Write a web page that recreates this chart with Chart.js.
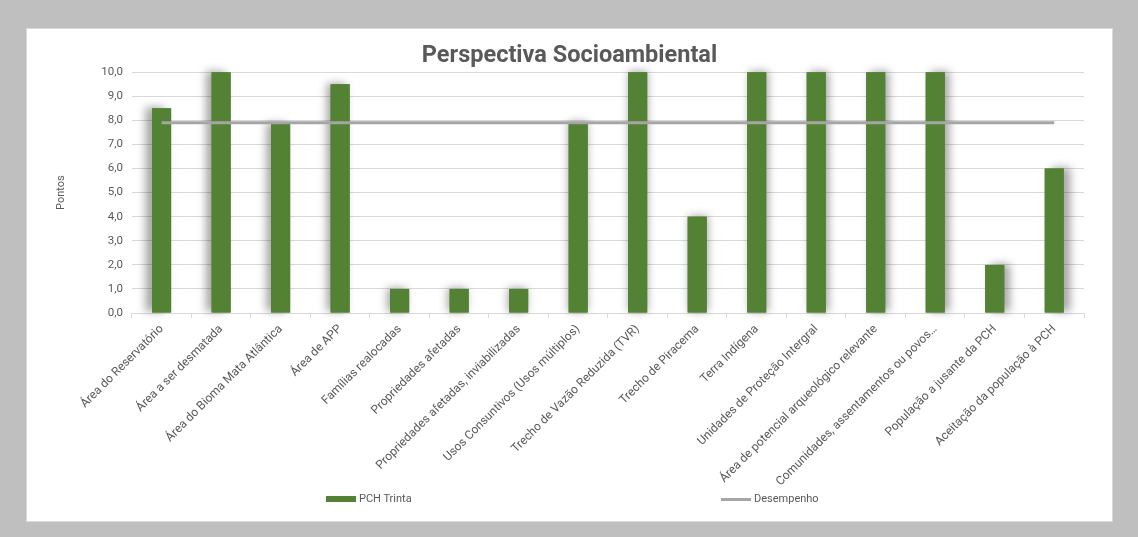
<!DOCTYPE html>
<html>
<head>
<meta charset="utf-8">
<script src="https://cdn.jsdelivr.net/npm/chart.js@4"></script>
<style>
  html, body { margin: 0; padding: 0; background: #bfbfbf; }
  #painel {
    position: absolute; left: 26px; top: 28px; width: 1087px; height: 494px;
    background: #ffffff; box-sizing: border-box; border: 1px solid #d9d9d9;
  }
  #grafico { display: block; }
  #legenda {
    position: absolute; top: 463px; left: 0; width: 100%; height: 14px;
    font: 11px Roboto, 'Liberation Sans', sans-serif; color: #595959;
  }
  .item { position: absolute; top: 0; line-height: 14px; white-space: nowrap; }
  .item span.marca { display: inline-block; width: 30px; vertical-align: middle; margin-right: 3px; }
</style>
</head>
<body>
<div id="painel">
  <canvas id="grafico" width="1085" height="464"></canvas>
  <div id="legenda"></div>
</div>
<script>
// --- Dados ---
const categorias = [
  "Área do Reservatório",
  "Área a ser desmatada",
  "Área do Bioma Mata Atlântica",
  "Área de APP",
  "Famílias realocadas",
  "Propriedades afetadas",
  "Propriedades afetadas, inviabilizadas",
  "Usos Consuntivos (Usos múltiplos)",
  "Trecho de Vazão Reduzida (TVR)",
  "Trecho de Piracema",
  "Terra Indígena",
  "Unidades de Proteção Intergral",
  "Área de potencial arqueológico relevante",
  "Comunidades, assentamentos ou povos…",
  "População a jusante da PCH",
  "Aceitação da população à PCH"
];
const pchTrinta = [8.5, 10, 7.85, 9.5, 1, 1, 1, 7.9, 10, 4, 10, 10, 10, 10, 2, 6];
const desempenho = [7.9, 7.9, 7.9, 7.9, 7.9, 7.9, 7.9, 7.9, 7.9, 7.9, 7.9, 7.9, 7.9, 7.9, 7.9, 7.9];

const verde = "#548235";
const cinza = "#a5a5a5";
const texto = "#595959";

// sombra das barras (efeito do Excel)
const sombraBarras = {
  id: "sombraBarras",
  beforeDatasetDraw(chart, args) {
    if (args.index !== 0) return;
    const ctx = chart.ctx;
    const area = chart.chartArea;
    const cx = (area.left + area.right) / 2;
    const meia = (area.right - area.left) / 2;
    args.meta.data.forEach(function (bar) {
      const p = bar.getProps(["x", "y", "base", "width"], true);
      ctx.save();
      ctx.shadowColor = "rgba(0,0,0,0.35)";
      ctx.shadowBlur = 8;
      ctx.shadowOffsetX = ((p.x - cx) / meia) * 7;
      ctx.shadowOffsetY = -1;
      ctx.fillStyle = verde;
      ctx.fillRect(p.x - p.width / 2, p.y, p.width, p.base - p.y);
      ctx.restore();
    });
  }
};

Chart.defaults.font.family = "Roboto, 'Liberation Sans', sans-serif";
Chart.defaults.color = texto;

const grafico = new Chart(document.getElementById("grafico").getContext("2d"), {
  type: "bar",
  data: {
    labels: categorias,
    datasets: [
      {
        label: "PCH Trinta",
        data: pchTrinta,
        backgroundColor: verde,
        borderColor: verde,
        borderWidth: 0,
        barPercentage: 0.64,
        categoryPercentage: 0.5,
        order: 2
      },
      {
        type: "line",
        label: "Desempenho",
        data: desempenho,
        borderColor: cinza,
        backgroundColor: cinza,
        borderWidth: 3,
        pointRadius: 0,
        fill: false,
        order: 1
      }
    ]
  },
  options: {
    responsive: false,
    animation: false,
    layout: { padding: { left: 28, right: 28, top: 2, bottom: 0 } },
    plugins: {
      title: {
        display: true,
        text: "Perspectiva Socioambiental",
        color: texto,
        font: { size: 23.5, weight: "bold" },
        padding: { top: 11, bottom: 2 }
      },
      legend: { display: false },
      tooltip: { enabled: false }
    },
    scales: {
      x: {
        grid: {
          offset: true,
          drawOnChartArea: false,
          color: "#d9d9d9",
          tickLength: 5
        },
        border: { color: "#d9d9d9" },
        ticks: {
          maxRotation: 45,
          minRotation: 45,
          autoSkip: false,
          color: texto,
          font: { size: 12 },
          padding: 4
        }
      },
      y: {
        min: 0,
        max: 10,
        ticks: {
          stepSize: 1,
          color: texto,
          font: { size: 11.5 },
          padding: 9,
          callback: function (v) { return v.toFixed(1).replace(".", ","); }
        },
        grid: { color: "#d9d9d9", drawTicks: false },
        border: { display: false },
        title: {
          display: true,
          text: "Pontos",
          color: texto,
          font: { size: 11 },
          padding: { top: 0, bottom: 24 }
        }
      }
    }
  },
  plugins: [sombraBarras]
});

// --- Legenda (estilo Excel, itens afastados) ---
const posLegenda = [299, 694];
const legenda = document.getElementById("legenda");
grafico.data.datasets.forEach(function (ds, i) {
  const item = document.createElement("div");
  item.className = "item";
  item.style.left = posLegenda[i] + "px";
  const marca = document.createElement("span");
  marca.className = "marca";
  marca.style.height = ds.type === "line" ? "3px" : "6px";
  marca.style.background = ds.type === "line" ? ds.borderColor : ds.backgroundColor;
  item.appendChild(marca);
  item.appendChild(document.createTextNode(ds.label));
  legenda.appendChild(item);
});
</script>
</body>
</html>
